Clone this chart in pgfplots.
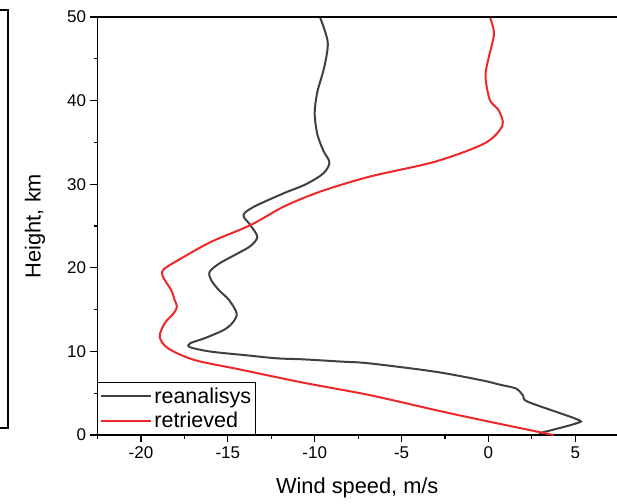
\documentclass[border=0pt]{standalone}
\usepackage{pgfplots}
\pgfplotsset{compat=1.18}
\usepackage{fontspec}
\setmainfont{Liberation Sans}
\definecolor{reagray}{RGB}{64,64,64}
\definecolor{retred}{RGB}{238,40,40}
\begin{document}
\begin{tikzpicture}
\useasboundingbox (-97.5bp,-69bp) rectangle (519.5bp,435bp);
\draw[line width=1.3bp] (-97.5bp,425bp) -- (-89.5bp,425bp) -- (-89.5bp,7bp) -- (-97.5bp,7bp);
\begin{axis}[
  at={(0,0)}, anchor=south west,
  scale only axis, width=519.5bp, height=418bp,
  xmin=-22.5, xmax=7.4, ymin=0, ymax=50,
  axis lines=left,
  axis line style={-, line width=1.4bp, black},
  tick align=outside,
  major tick length=7bp, minor tick length=3.5bp,
  every tick/.style={black, line width=1.2bp},
  xtick={-20,-15,-10,-5,0,5},
  minor xtick={-22.5,-17.5,-12.5,-7.5,-2.5,2.5},
  ytick={0,10,20,30,40,50},
  minor ytick={5,15,25,35,45},
  /pgf/number format/assume math mode=true,
  tick label style={font=\fontsize{17bp}{20bp}\selectfont},
  xticklabel style={yshift=-1bp},
  yticklabel style={xshift=-1bp},
  xlabel={Wind speed, m/s}, ylabel={Height, km},
  label style={font=\fontsize{21.8bp}{26bp}\selectfont},
  x label style={at={(axis description cs:0.5,-0.1268)}, anchor=center},
  y label style={at={(axis description cs:-0.1203,0.5)}, anchor=center},
  legend style={at={(axis description cs:0,0)}, anchor=south west,
    draw=black, line width=0.8bp, inner xsep=2.5bp, inner ysep=3.5bp,
    font=\fontsize{21.5bp}{26bp}\selectfont, row sep=3.5bp},
  legend cell align=left,
  legend image code/.code={\draw[#1, line width=2bp] (0bp,0bp) -- (50bp,0bp);},
  clip=false,
]
\addplot[reagray, line width=2bp, smooth, tension=0.5] coordinates {
(2.9,0.2) (5.07,1.4) (5.07,1.9) (2.3,3.95) (2.0,4.7) (1.6,5.55) (0.7,6.0)
(-0.4,6.55) (-3.06,7.57) (-6.85,8.57) (-8.38,8.77) (-10.66,9.05) (-12.17,9.17)
(-14.0,9.55) (-15.97,9.97) (-17.17,10.5) (-17.17,10.97) (-16.3,11.6) (-15.2,12.6)
(-14.7,13.5) (-14.49,14.56) (-14.93,16.15) (-15.5,17.3) (-15.95,18.5) (-16.05,19.5)
(-15.5,20.5) (-14.45,21.7) (-13.7,22.6) (-13.3,23.7) (-13.7,25.1) (-14.1,26.3)
(-13.5,27.3) (-11.8,28.9) (-10.5,30.0) (-9.5,31.3) (-9.15,32.6) (-9.5,34.0)
(-9.85,36.0) (-10.0,38.5) (-9.85,41.0) (-9.45,44.0) (-9.25,47.0) (-9.7,50)
};
\addlegendentry{reanalisys}
\addplot[retred, line width=2bp, smooth, tension=0.5] coordinates {
(3.74,0) (-0.4,1.79) (-3.06,2.99) (-6.85,4.78) (-10.66,6.26) (-14.45,7.9)
(-16.92,8.97) (-18.44,10.37) (-18.92,11.76) (-18.63,13.36) (-18.1,14.6)
(-17.93,15.35) (-18.06,16.15) (-18.25,17.3) (-18.75,19.0) (-18.7,19.8)
(-17.87,20.9) (-15.97,23.1) (-13.7,25.1) (-11.8,27.3) (-9.7,29.1) (-6.85,30.9)
(-3.06,32.7) (-0.21,34.9) (0.8,37.0) (0.6,38.8) (0.08,40.07) (-0.17,42.9)
(0.0,45) (0.32,48) (0.08,50)
};
\addlegendentry{retrieved}
\draw[line width=1.4bp] (rel axis cs:0,1) -- (rel axis cs:1,1);
\end{axis}
\end{tikzpicture}
\end{document}
